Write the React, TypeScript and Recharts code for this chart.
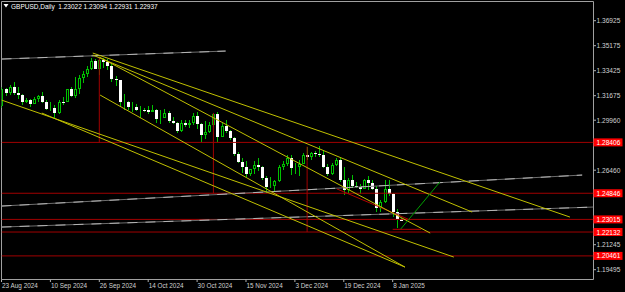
import React from "react";
import { ComposedChart, Bar, XAxis, YAxis, ReferenceLine, ReferenceArea } from "recharts";

// GBPUSD daily bars, 23 Aug 2024 - 10 Jan 2025 (no bars on 25 Dec / 1 Jan)
const dates = [
  "23 Aug 2024", "26 Aug 2024", "27 Aug 2024", "28 Aug 2024", "29 Aug 2024", "30 Aug 2024",
  "2 Sep 2024", "3 Sep 2024", "4 Sep 2024", "5 Sep 2024", "6 Sep 2024", "9 Sep 2024",
  "10 Sep 2024", "11 Sep 2024", "12 Sep 2024", "13 Sep 2024", "16 Sep 2024", "17 Sep 2024",
  "18 Sep 2024", "19 Sep 2024", "20 Sep 2024", "23 Sep 2024", "24 Sep 2024", "25 Sep 2024",
  "26 Sep 2024", "27 Sep 2024", "30 Sep 2024", "1 Oct 2024", "2 Oct 2024", "3 Oct 2024",
  "4 Oct 2024", "7 Oct 2024", "8 Oct 2024", "9 Oct 2024", "10 Oct 2024", "11 Oct 2024",
  "14 Oct 2024", "15 Oct 2024", "16 Oct 2024", "17 Oct 2024", "18 Oct 2024", "21 Oct 2024",
  "22 Oct 2024", "23 Oct 2024", "24 Oct 2024", "25 Oct 2024", "28 Oct 2024", "29 Oct 2024",
  "30 Oct 2024", "31 Oct 2024", "1 Nov 2024", "4 Nov 2024", "5 Nov 2024", "6 Nov 2024",
  "7 Nov 2024", "8 Nov 2024", "11 Nov 2024", "12 Nov 2024", "13 Nov 2024", "14 Nov 2024",
  "15 Nov 2024", "18 Nov 2024", "19 Nov 2024", "20 Nov 2024", "21 Nov 2024", "22 Nov 2024",
  "25 Nov 2024", "26 Nov 2024", "27 Nov 2024", "28 Nov 2024", "29 Nov 2024", "2 Dec 2024",
  "3 Dec 2024", "4 Dec 2024", "5 Dec 2024", "6 Dec 2024", "9 Dec 2024", "10 Dec 2024",
  "11 Dec 2024", "12 Dec 2024", "13 Dec 2024", "16 Dec 2024", "17 Dec 2024", "18 Dec 2024",
  "19 Dec 2024", "20 Dec 2024", "23 Dec 2024", "24 Dec 2024", "26 Dec 2024", "27 Dec 2024",
  "30 Dec 2024", "31 Dec 2024", "2 Jan 2025", "3 Jan 2025", "6 Jan 2025", "7 Jan 2025",
  "8 Jan 2025", "9 Jan 2025", "10 Jan 2025",
];

const opens = [
  1.3093, 1.3211, 1.3185, 1.3225, 1.3185, 1.3172, 1.3126, 1.3135, 1.3112, 1.3141,
  1.3167, 1.3126, 1.3076, 1.3083, 1.3043, 1.3124, 1.3124, 1.3213, 1.3165, 1.3215,
  1.329, 1.332, 1.3355, 1.341, 1.3356, 1.3418, 1.3404, 1.3375, 1.3285, 1.3275,
  1.3122, 1.3125, 1.3087, 1.3091, 1.3068, 1.307, 1.3066, 1.3055, 1.307, 1.3004,
  1.3013, 1.3049, 1.299, 1.2975, 1.2918, 1.2975, 1.2962, 1.2975, 1.3022, 1.2966,
  1.2895, 1.2914, 1.2962, 1.3038, 1.288, 1.2958, 1.2918, 1.2872, 1.2758, 1.27,
  1.2669, 1.2616, 1.2651, 1.268, 1.2666, 1.2589, 1.2531, 1.2535, 1.2569, 1.2666,
  1.2686, 1.2733, 1.266, 1.2671, 1.2689, 1.2755, 1.2741, 1.2765, 1.2757, 1.2755,
  1.2668, 1.2618, 1.2685, 1.2716, 1.2575, 1.2507, 1.2575, 1.2535, 1.253, 1.2515,
  1.2575, 1.2553, 1.2515, 1.238, 1.2421, 1.2515, 1.2482, 1.235, 1.23022,
];
const highs = [
  1.3229, 1.3224, 1.324, 1.3266, 1.323, 1.318, 1.315, 1.3142, 1.316, 1.3175,
  1.3195, 1.3135, 1.3125, 1.3105, 1.3135, 1.316, 1.3215, 1.3226, 1.3297, 1.3315,
  1.3343, 1.3377, 1.3429, 1.3426, 1.3434, 1.3431, 1.3423, 1.3387, 1.3306, 1.3278,
  1.3178, 1.3131, 1.312, 1.3107, 1.3092, 1.3079, 1.3096, 1.3103, 1.3077, 1.307,
  1.3071, 1.3058, 1.3015, 1.2986, 1.2995, 1.2996, 1.2996, 1.3044, 1.3054, 1.2978,
  1.2987, 1.2983, 1.3047, 1.3051, 1.2976, 1.2994, 1.2924, 1.2878, 1.2771, 1.2731,
  1.2712, 1.2656, 1.2712, 1.2729, 1.2677, 1.2603, 1.2596, 1.258, 1.2685, 1.2713,
  1.2749, 1.2749, 1.2698, 1.2716, 1.2767, 1.2811, 1.2775, 1.2781, 1.2812, 1.2786,
  1.2691, 1.2697, 1.2732, 1.2732, 1.267, 1.2588, 1.261, 1.2562, 1.2547, 1.2582,
  1.2607, 1.2576, 1.2536, 1.2435, 1.2576, 1.2576, 1.2487, 1.2375, 1.23094,
];
const lows = [
  1.3084, 1.3163, 1.3175, 1.3174, 1.3141, 1.3104, 1.3115, 1.3087, 1.311, 1.3126,
  1.3115, 1.3066, 1.306, 1.3002, 1.304, 1.3101, 1.312, 1.316, 1.3154, 1.3178,
  1.3258, 1.33, 1.335, 1.3351, 1.3312, 1.3361, 1.3345, 1.326, 1.3238, 1.309,
  1.307, 1.3067, 1.3056, 1.3059, 1.3014, 1.3052, 1.3041, 1.305, 1.2974, 1.2972,
  1.301, 1.2975, 1.2972, 1.2907, 1.2916, 1.2948, 1.2938, 1.2963, 1.2932, 1.2844,
  1.2863, 1.2903, 1.2951, 1.2845, 1.2876, 1.2907, 1.2858, 1.2747, 1.2699, 1.2629,
  1.2596, 1.2602, 1.2617, 1.2643, 1.258, 1.2487, 1.252, 1.25, 1.256, 1.2648,
  1.2675, 1.2615, 1.2617, 1.2607, 1.2686, 1.2716, 1.2715, 1.2737, 1.2738, 1.266,
  1.2606, 1.261, 1.2678, 1.2564, 1.2475, 1.2476, 1.2523, 1.252, 1.2478, 1.2511,
  1.251, 1.2505, 1.2353, 1.235, 1.2417, 1.2467, 1.232, 1.2239, 1.22931,
];
const closes = [
  1.3211, 1.3185, 1.3225, 1.3185, 1.3172, 1.3126, 1.3135, 1.3112, 1.3141, 1.3167,
  1.3126, 1.3076, 1.3083, 1.3043, 1.3124, 1.3124, 1.3213, 1.3165, 1.3215, 1.329,
  1.332, 1.3355, 1.341, 1.3356, 1.3418, 1.3404, 1.3375, 1.3285, 1.3275, 1.3122,
  1.3125, 1.3087, 1.3091, 1.3068, 1.307, 1.3066, 1.3055, 1.307, 1.3004, 1.3013,
  1.3049, 1.299, 1.2975, 1.2918, 1.2975, 1.2962, 1.2975, 1.3022, 1.2966, 1.2895,
  1.2914, 1.2962, 1.3038, 1.288, 1.2958, 1.2918, 1.2872, 1.2758, 1.27, 1.2669,
  1.2616, 1.2651, 1.268, 1.2666, 1.2589, 1.2531, 1.2535, 1.2569, 1.2666, 1.2686,
  1.2733, 1.266, 1.2671, 1.2689, 1.2755, 1.2741, 1.2765, 1.2757, 1.2755, 1.2668,
  1.2618, 1.2685, 1.2716, 1.2575, 1.2507, 1.2575, 1.2535, 1.253, 1.2515, 1.2575,
  1.2553, 1.2515, 1.238, 1.2421, 1.2515, 1.2482, 1.235, 1.2302, 1.22937,
];

// price scale labels left visible beside the red level tags
const priceTicks = [1.36925, 1.35175, 1.33425, 1.31675, 1.2996, 1.2646, 1.21245, 1.19495];
const levels = [1.28406, 1.24846, 1.23015, 1.22132, 1.20461];
const dateTicks = [0, 12, 24, 36, 48, 60, 72, 84, 96];

// drawn objects: [bar index, price, bar index, price]
const grayLines = [
  [0, 1.3424, 55, 1.348],
  [0, 1.2395, 142.5, 1.2612],
  [0, 1.2248, 145.2, 1.2388],
];
const yellowLines = [
  [22.4, 1.3466, 139.5, 1.2318],
  [22.4, 1.3452, 115.5, 1.2353],
  [24, 1.3438, 105.2, 1.2206],
  [24.2, 1.3172, 99, 1.1968],
  [0, 1.3137, 111, 1.2038],
  [9.9, 1.3046, 99, 1.1968],
];
const projections = [
  [24, 1.3434, 24, 1.28406],
  [52, 1.3047, 52, 1.24846],
  [75, 1.2811, 75, 1.22132],
];
const redLines = [
  [82.3, 1.2515, 100.2, 1.2298],
  [96, 1.2232, 103, 1.2232],
];
const greenLines = [[98, 1.2235, 107.6, 1.2564]];

const title = "GBPUSD,Daily  1.23022 1.23094 1.22931 1.22937";

const xDomain: [number, number] = [0, 145.28];
const yDomain: [number, number] = [1.18809, 1.38269];

const GREEN = "#00c000";
const FONT = "'Liberation Sans', Arial, sans-serif";

const bars = dates.map((d, i) => ({
  i,
  d,
  o: opens[i],
  h: highs[i],
  l: lows[i],
  c: closes[i],
  range: [lows[i], highs[i]],
}));

function Candle(props: any) {
  const { x, y, width, height, payload } = props;
  if (x == null || !payload) return null;
  const top = Math.min(y, y + height);
  const bot = Math.max(y, y + height);
  const { o, h, l, c } = payload;
  const span = h - l || 1;
  const toY = (p: number) => top + ((h - p) / span) * (bot - top);
  const col = Math.floor(x + width / 2);
  const bTop = Math.round(toY(Math.max(o, c)));
  const bBot = Math.max(bTop + 1, Math.round(toY(Math.min(o, c))));
  return (
    <g shapeRendering="crispEdges">
      <line x1={col + 0.5} x2={col + 0.5} y1={Math.round(top)} y2={Math.round(bot)} stroke={GREEN} />
      {c > o ? (
        <rect x={col - 0.5} y={bTop + 0.5} width={2} height={Math.max(bBot - bTop - 1, 0)} fill="#000" stroke={GREEN} />
      ) : (
        <rect x={col - 1} y={bTop} width={3} height={bBot - bTop} fill="#fff" />
      )}
    </g>
  );
}

function PriceTick(props: any) {
  const { x, y, payload } = props;
  const v = payload.value as number;
  if (levels.includes(v)) {
    return (
      <g>
        <rect x={x} y={y - 4} width={29} height={8} fill="#ff0000" />
        <text x={x + 3} y={y + 2.5} fill="#ffffff" fontSize={6.6} fontFamily={FONT}>
          {v.toFixed(5)}
        </text>
      </g>
    );
  }
  return (
    <g>
      <line x1={x} x2={x + 2.5} y1={y} y2={y} stroke="#b0b0b0" />
      <text x={x + 3} y={y + 2.4} fill="#d0d0d0" fontSize={6.6} fontFamily={FONT}>
        {v.toFixed(5)}
      </text>
    </g>
  );
}

function DateTick(props: any) {
  const { x, y, payload } = props;
  return (
    <g>
      <line x1={x} x2={x} y1={y} y2={y + 2.5} stroke="#b0b0b0" />
      <text x={x + 0.5} y={y + 8.5} fill="#d0d0d0" fontSize={6.4} fontFamily={FONT}>
        {dates[payload.value]}
      </text>
    </g>
  );
}

const seg = (s: number[]) => [
  { x: s[0], y: s[1] },
  { x: s[2], y: s[3] },
];

export default function App() {
  return (
    <div style={{ position: "absolute", left: 0, top: 0, width: 625, height: 292, background: "#000", overflow: "hidden" }}>
      <ComposedChart width={625} height={292} data={bars} margin={{ top: 1.5, right: 0, bottom: 0, left: 1.5 }}>
        <XAxis
          type="number"
          dataKey="i"
          domain={xDomain}
          allowDataOverflow
          ticks={dateTicks}
          interval={0}
          height={12.5}
          tickSize={0}
          tickMargin={0}
          axisLine={false}
          tickLine={false}
          tick={<DateTick />}
        />
        <YAxis
          type="number"
          orientation="right"
          domain={yDomain}
          allowDataOverflow
          ticks={[...priceTicks, ...levels]}
          interval={0}
          width={31.5}
          tickSize={0}
          tickMargin={0}
          axisLine={false}
          tickLine={false}
          tick={<PriceTick />}
        />
        {levels.map((p) => (
          <ReferenceLine key={"h" + p} y={p} stroke="#a00000" ifOverflow="hidden" />
        ))}
        {grayLines.map((s, k) => (
          <ReferenceLine key={"g" + k} segment={seg(s)} stroke="#6e6e6e" ifOverflow="hidden" />
        ))}
        {grayLines.map((s, k) => (
          <ReferenceLine key={"gd" + k} segment={seg(s)} stroke="#b4b4b4" strokeDasharray="10 8" ifOverflow="hidden" />
        ))}
        <Bar dataKey="range" barSize={3} shape={(p: any) => <Candle {...p} />} isAnimationActive={false} />
        {projections.map((s, k) => (
          <ReferenceLine key={"v" + k} segment={seg(s)} stroke="#a00000" ifOverflow="hidden" />
        ))}
        {redLines.map((s, k) => (
          <ReferenceLine key={"r" + k} segment={seg(s)} stroke="#b00000" ifOverflow="hidden" />
        ))}
        {yellowLines.map((s, k) => (
          <ReferenceLine key={"y" + k} segment={seg(s)} stroke="#c0c000" ifOverflow="hidden" />
        ))}
        {greenLines.map((s, k) => (
          <ReferenceLine key={"gr" + k} segment={seg(s)} stroke="#00a000" ifOverflow="hidden" />
        ))}
        <ReferenceArea x1={xDomain[0]} x2={xDomain[1]} y1={yDomain[0]} y2={yDomain[1]} fill="none" stroke="#a0a0a0" ifOverflow="visible" />
      </ComposedChart>
      <svg width={200} height={12} style={{ position: "absolute", left: 0, top: 0 }}>
        <polygon points="3.5,4 8.5,4 6,7.5" fill="#ffffff" />
        <text x={11} y={8.6} fill="#ffffff" fontSize={6.5} fontFamily={FONT} style={{ whiteSpace: "pre" }}>
          {title}
        </text>
      </svg>
    </div>
  );
}
